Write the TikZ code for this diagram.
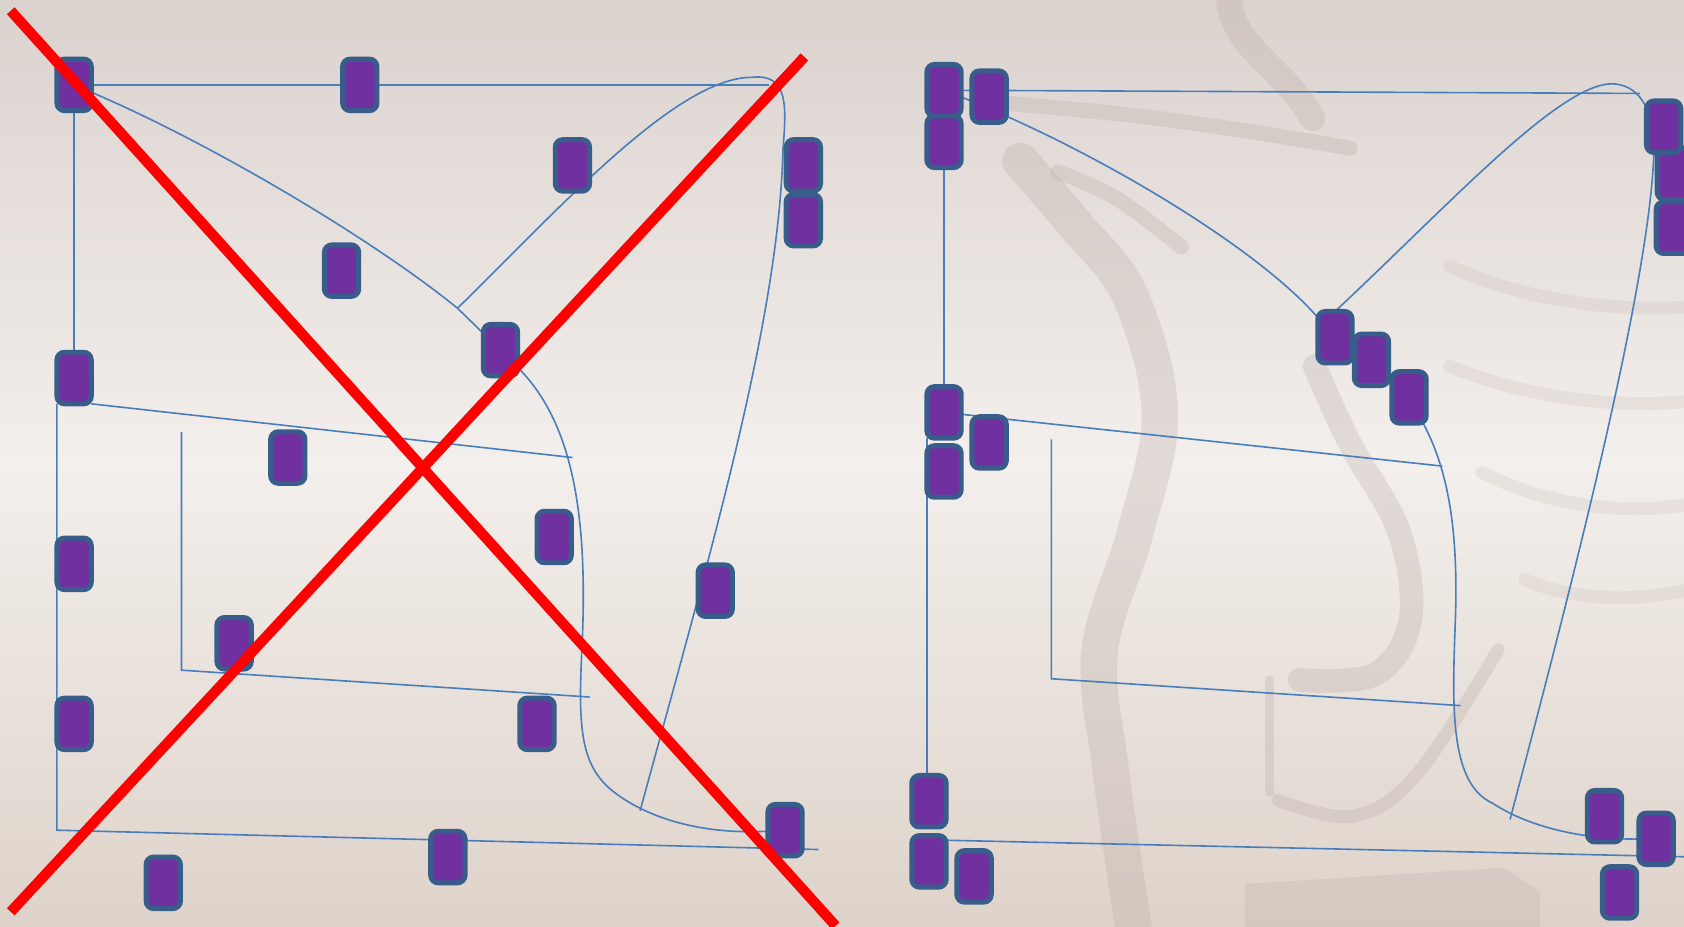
\documentclass[tikz,border=0pt]{standalone}
\usetikzlibrary{calc}

\definecolor{boxfill}{HTML}{7030A0}
\definecolor{boxedge}{HTML}{385D8A}
\definecolor{wirecol}{HTML}{4A7EBB}
\definecolor{bgtop}{RGB}{219,210,206}
\definecolor{bgmid}{RGB}{243,239,236}
\definecolor{bgbot}{RGB}{222,211,202}
\definecolor{markcol}{RGB}{186,172,167}

\pgfdeclarelayer{back}
\pgfdeclarelayer{wires}
\pgfdeclarelayer{front}
\pgfsetlayers{back,wires,main,front}

\tikzset{
  unit/.style={draw=boxedge, fill=boxfill, line width=2.3pt, rounded corners=3.5pt,
               minimum width=16pt, minimum height=24pt, inner sep=0pt, outer sep=0pt},
  wire/.style={draw=wirecol, line width=0.75pt},
  cross/.style={draw=red, line width=4.8pt},
  wmark/.style={draw=markcol, opacity=0.3, line cap=round, line join=round}
}

\begin{document}
\begin{tikzpicture}[x=0.5pt,y=-0.5pt]
\useasboundingbox (0,0) rectangle (1568,863);

% ---------- backdrop ----------
\begin{pgfonlayer}{back}
  \shade[top color=bgtop, bottom color=bgbot, middle color=bgmid] (0,0) rectangle (1568,863);
  % faint ornament on the right half
  \draw[wmark, line width=12pt] (1145,-12) .. controls (1138,40) and (1196,62) .. (1222,110);
  \draw[wmark, line width=17pt] plot[smooth, tension=0.6] coordinates
    {(950,150) (1001,209) (1052,275) (1080,385) (1057,496) (1024,606) (1034,716) (1057,875)};
  \draw[wmark, line width=11pt] plot[smooth, tension=0.6] coordinates
    {(1224,341) (1257,413) (1303,496) (1313,578) (1280,628) (1210,633)};
  \draw[wmark, line width=7pt] plot[smooth, tension=0.6] coordinates
    {(935,96) (1060,108) (1180,125) (1257,138)};
  \draw[wmark, line width=7pt] plot[smooth, tension=0.6] coordinates
    {(985,160) (1040,185) (1100,230)};
  \draw[wmark, line width=4pt] (1182,633) -- (1182,738);
  \draw[wmark, line width=6pt] plot[smooth, tension=0.6] coordinates
    {(1190,745) (1260,760) (1320,720) (1395,605)};
  \draw[wmark, opacity=0.18, line width=6pt] (1350,248) .. controls (1420,280) and (1500,290) .. (1568,286);
  \draw[wmark, opacity=0.18, line width=6pt] (1350,341) .. controls (1420,370) and (1500,380) .. (1568,374);
  \draw[wmark, opacity=0.18, line width=6pt] (1380,440) .. controls (1440,470) and (1510,480) .. (1568,470);
  \draw[wmark, opacity=0.18, line width=6pt] (1420,540) .. controls (1470,560) and (1520,560) .. (1568,550);
  \fill[markcol, opacity=0.25] (1159,823) -- (1400,808) -- (1434,830) -- (1434,863) -- (1159,863) -- cycle;
\end{pgfonlayer}

% ---------- left network ----------
\node[unit] (L1)  at (69,79)   {};
\node[unit] (L2)  at (335,79)  {};
\node[unit] (L3)  at (533,154) {};
\node[unit] (L4)  at (748,154) {};
\node[unit] (L4b) at (748,205) {};
\node[unit] (L5)  at (318,252) {};
\node[unit] (L6)  at (466,326) {};
\node[unit] (L7)  at (69,352)  {};
\node[unit] (L8)  at (268,426) {};
\node[unit] (L9)  at (516,500) {};
\node[unit] (L10) at (69,525)  {};
\node[unit] (L11) at (666,550) {};
\node[unit] (L12) at (218,599) {};
\node[unit] (L13) at (69,674)  {};
\node[unit] (L14) at (500,674) {};
\node[unit] (L15) at (731,773) {};
\node[unit] (L16) at (417,798) {};
\node[unit] (L17) at (152,822) {};

\coordinate (t1) at (716,79);
\coordinate (j1) at (426,287);
\coordinate (e1) at (596,755);
\coordinate (a2) at (533,426);
\coordinate (c1) at (53,773);
\coordinate (c2) at (762,791);
\coordinate (k1) at (169,402);
\coordinate (k2) at (169,624);
\coordinate (k3) at (549,649);

\begin{pgfonlayer}{wires}
  \draw[wire] (L1) -- (t1);
  \draw[wire] (L1) -- (L7);
  \draw[wire] (L1) .. controls (200,135) and (350,225) .. (j1) -- (L6);
  \draw[wire] (L6) .. controls (530,390) and (548,470) .. (542,600)
              .. controls (538,680) and (540,715) .. (575,740)
              .. controls (610,765) and (660,777) .. (L15);
  \draw[wire] (j1) .. controls (520,195) and (630,72) .. (700,72)
              .. controls (735,68) and (732,100) .. (729,140)
              .. controls (725,300) and (660,520) .. (e1);
  \draw[wire] (L7.south east) -- (a2);
  \draw[wire] (L7.south west) -- (c1) -- (c2);
  \draw[wire] (k1) -- (k2) -- (k3);
\end{pgfonlayer}

% ---------- right network ----------
\node[unit] (R1)  at (879,84)   {};
\node[unit] (R1b) at (879,132)  {};
\node[unit] (R2)  at (921,90)   {};
\node[unit] (R3b) at (1559,162) {};
\node[unit] (R3c) at (1558,212) {};
\node[unit] (R3)  at (1549,118) {};
\node[unit] (R4)  at (1243,314) {};
\node[unit] (R5)  at (1277,335) {};
\node[unit] (R6)  at (1312,370) {};
\node[unit] (R7)  at (879,384)  {};
\node[unit] (R8)  at (921,412)  {};
\node[unit] (R9)  at (879,439)  {};
\node[unit] (R10) at (865,746)  {};
\node[unit] (R11) at (865,802)  {};
\node[unit] (R12) at (907,816)  {};
\node[unit] (R13) at (1494,760) {};
\node[unit] (R14) at (1542,781) {};
\node[unit] (R15) at (1508,831) {};

\coordinate (t2) at (1527,87);
\coordinate (e2) at (1406,763);
\coordinate (a3) at (1343,434);
\coordinate (b3) at (1580,798);
\coordinate (m1) at (979,409);
\coordinate (m2) at (979,632);
\coordinate (m3) at (1360,657);

\begin{pgfonlayer}{wires}
  \draw[wire] (R1) -- (t2);
  \draw[wire] (R1b) -- (R7);
  \draw[wire] (R1) .. controls (1020,140) and (1170,230) .. (R4);
  \draw[wire] (R4.north) .. controls (1350,190) and (1450,80) .. (1500,78)
              .. controls (1525,78) and (1540,100) .. (1540,140)
              .. controls (1537,260) and (1465,540) .. (e2);
  \draw[wire] (R6) .. controls (1350,440) and (1358,500) .. (1355,580)
              .. controls (1352,660) and (1350,730) .. (1390,748)
              .. controls (1420,768) and (1470,782) .. (R14);
  \draw[wire] (R7) -- (a3);
  \draw[wire] (R7.south west) -- (R7.south west |- R10.north);
  \draw[wire] ([yshift=-2pt]R11.north) -- (b3);
  \draw[wire] (m1) -- (m2) -- (m3);
\end{pgfonlayer}

% ---------- crossing-out strokes ----------
\coordinate (x1) at (10,10);
\coordinate (x2) at (778,862);
\coordinate (x3) at (749,53);
\coordinate (x4) at (10,849);
\begin{pgfonlayer}{front}
  \draw[cross] (x1) -- (x2);
  \draw[cross] (x3) -- (x4);
\end{pgfonlayer}
\end{tikzpicture}
\end{document}
